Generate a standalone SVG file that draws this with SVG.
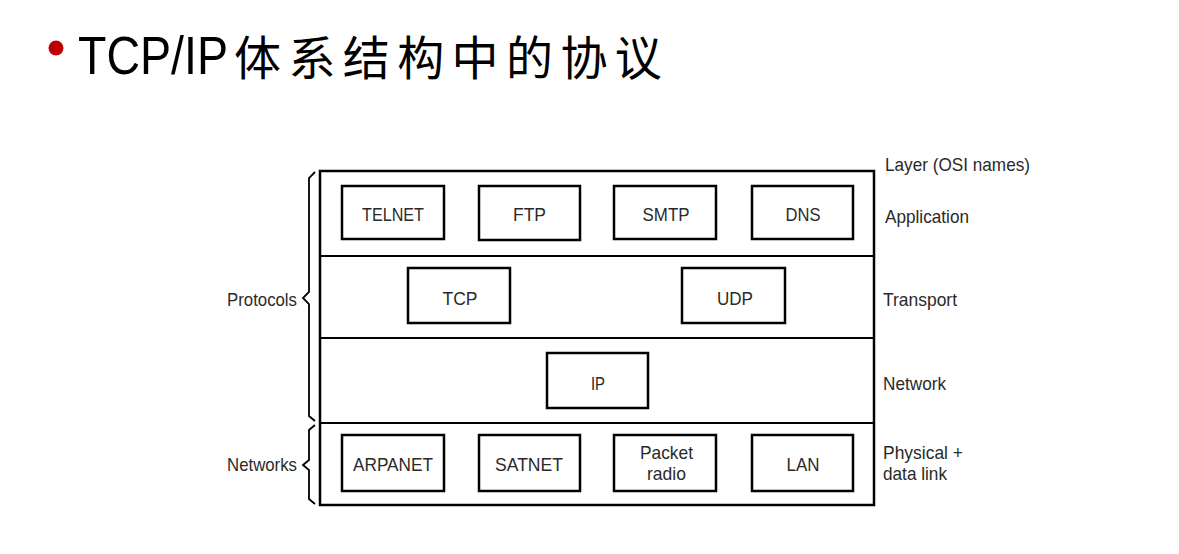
<svg xmlns="http://www.w3.org/2000/svg" width="1179" height="554" viewBox="0 0 1179 554">
<style>
.box{fill:#fff;stroke:#000;stroke-width:2.5}
.frame{fill:none;stroke:#000;stroke-width:2.5}
.sep{stroke:#000;stroke-width:2.2}
.brace{fill:none;stroke:#000;stroke-width:1.8;stroke-linejoin:miter}
.t{font-family:"Liberation Sans",Arial,sans-serif;font-size:19px;fill:#2a2a2a}
.c{text-anchor:middle}
</style>
<rect width="1179" height="554" fill="#fff"/>
<g id="title">
<circle cx="56" cy="48" r="7.5" fill="#C00000"/>
<text x="78" y="74" font-family="Liberation Sans,Arial,sans-serif" font-size="53" fill="#000" textLength="150" lengthAdjust="spacingAndGlyphs">TCP/IP</text>
<text x="234" y="75" font-family="Noto Sans CJK SC,sans-serif" font-size="47" letter-spacing="7.4" fill="#000">体系结构中的协议</text>
</g>
<g id="stack">
<rect class="frame" x="320" y="171" width="554" height="334"/>
<line class="sep" x1="320" y1="256" x2="874" y2="256"/>
<line class="sep" x1="320" y1="338" x2="874" y2="338"/>
<line class="sep" x1="320" y1="423" x2="874" y2="423"/>
</g>
<g id="connectors">
<path class="brace" d="M315,172 L309,178 L309,292 L303,298 L309,304 L309,416 L315,421"/>
<path class="brace" d="M315,425 L309,430 L309,460 L303,465 L309,470 L309,499 L315,504"/>
</g>
<g id="telnet"><rect class="box" x="342" y="186" width="102" height="53"/><text class="t c" x="393" y="221" textLength="62" lengthAdjust="spacingAndGlyphs">TELNET</text></g>
<g id="ftp"><rect class="box" x="479" y="186" width="101" height="54"/><text class="t c" x="529.5" y="221" textLength="33" lengthAdjust="spacingAndGlyphs">FTP</text></g>
<g id="smtp"><rect class="box" x="614" y="186" width="102" height="53"/><text class="t c" x="666" y="221" textLength="47" lengthAdjust="spacingAndGlyphs">SMTP</text></g>
<g id="dns"><rect class="box" x="752" y="186" width="101" height="53"/><text class="t c" x="803" y="221" textLength="35" lengthAdjust="spacingAndGlyphs">DNS</text></g>
<g id="tcp"><rect class="box" x="408" y="268" width="102" height="55"/><text class="t c" x="460" y="305" textLength="35" lengthAdjust="spacingAndGlyphs">TCP</text></g>
<g id="udp"><rect class="box" x="682" y="268" width="103" height="55"/><text class="t c" x="735" y="305" textLength="36" lengthAdjust="spacingAndGlyphs">UDP</text></g>
<g id="ip"><rect class="box" x="547" y="353" width="101" height="55"/><text class="t c" x="598" y="390" textLength="14" lengthAdjust="spacingAndGlyphs">IP</text></g>
<g id="arpanet"><rect class="box" x="342" y="435" width="102" height="56"/><text class="t c" x="393" y="471" textLength="80" lengthAdjust="spacingAndGlyphs">ARPANET</text></g>
<g id="satnet"><rect class="box" x="479" y="435" width="101" height="56"/><text class="t c" x="529" y="471" textLength="68" lengthAdjust="spacingAndGlyphs">SATNET</text></g>
<g id="packetradio"><rect class="box" x="614" y="435" width="102" height="56"/><text class="t c" x="666.5" y="459" textLength="53" lengthAdjust="spacingAndGlyphs">Packet</text><text class="t c" x="666.5" y="480" textLength="39" lengthAdjust="spacingAndGlyphs">radio</text></g>
<g id="lan"><rect class="box" x="752" y="435" width="101" height="56"/><text class="t c" x="803" y="471" textLength="33" lengthAdjust="spacingAndGlyphs">LAN</text></g>
<g id="labels">
<text class="t" x="885" y="171" textLength="145" lengthAdjust="spacingAndGlyphs">Layer (OSI names)</text>
<text class="t" x="885" y="223" textLength="84" lengthAdjust="spacingAndGlyphs">Application</text>
<text class="t" x="883" y="306" textLength="74" lengthAdjust="spacingAndGlyphs">Transport</text>
<text class="t" x="883" y="390" textLength="63" lengthAdjust="spacingAndGlyphs">Network</text>
<text class="t" x="883" y="459" textLength="80" lengthAdjust="spacingAndGlyphs">Physical +</text>
<text class="t" x="883" y="480" textLength="64" lengthAdjust="spacingAndGlyphs">data link</text>
<text class="t" x="227" y="306" textLength="70" lengthAdjust="spacingAndGlyphs">Protocols</text>
<text class="t" x="227" y="471" textLength="70" lengthAdjust="spacingAndGlyphs">Networks</text>
</g>
</svg>
